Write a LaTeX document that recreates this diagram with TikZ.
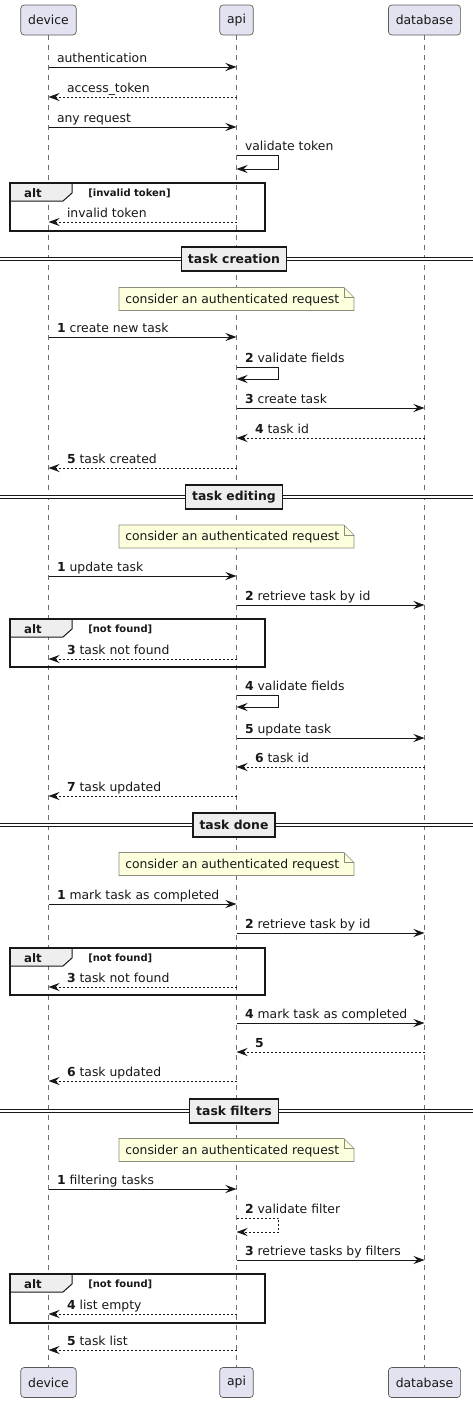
\documentclass[tikz,border=0pt]{standalone}
\usepackage{fontspec}
\setmainfont{DejaVu Sans}
\usepackage{xcolor}
\usepackage{tikz}
\definecolor{seqInk}{HTML}{181818}
\definecolor{seqPart}{HTML}{E2E2F0}
\definecolor{seqPartLine}{HTML}{5A5A5A}
\definecolor{seqLife}{HTML}{6E6E6E}
\definecolor{seqNote}{HTML}{FEFFDD}
\definecolor{seqNoteLine}{HTML}{8C8C7A}
\definecolor{seqGroup}{HTML}{EEEEEE}
\usetikzlibrary{arrows.meta,calc}

\begin{document}
\begin{tikzpicture}[
  x=0.75pt, y=-0.75pt,
  font=\fontsize{9.3}{11}\selectfont,
  participant/.style={draw=seqPartLine, line width=0.5pt, rounded corners=2.5pt, fill=seqPart, minimum height=22.5pt, inner xsep=5.5pt, text=seqInk},
  lifeline/.style={seqLife, line width=0.45pt, dash pattern=on 3.75pt off 3.75pt},
  call/.style={seqInk, line width=0.75pt, -{Stealth[length=8.5pt, width=6.2pt, inset=3.2pt]}},
  reply/.style={call, dash pattern=on 1.5pt off 1.5pt},
  msglabel/.style={anchor=base west, inner sep=0pt, text=seqInk, yshift=3.5pt},
  fromlabel/.style={msglabel, pos=0, xshift=6pt},
  tolabel/.style={msglabel, pos=1, xshift=13.5pt},
  divider/.style={draw=seqInk, line width=1.1pt, fill=seqGroup, font=\fontsize{9.3}{11}\selectfont\bfseries, minimum height=18pt, inner xsep=5pt, text=seqInk},
  notebox/.style={draw=seqNoteLine, line width=0.5pt, fill=seqNote},
  notetext/.style={anchor=base west, inner sep=0pt, text=seqInk},
  altframe/.style={draw=seqInk, line width=1.1pt},
  alttab/.style={draw=seqInk, line width=0.75pt, fill=seqGroup},
  alttag/.style={anchor=base, inner sep=0pt, font=\fontsize{8.8}{10}\selectfont\bfseries, text=seqInk},
  altcond/.style={anchor=base west, inner sep=0pt, font=\fontsize{7.5}{9}\selectfont\bfseries, text=seqInk}
]
\useasboundingbox (0,0) rectangle (473,1403);

% Participants (top and bottom)
\node[participant] (devT) at (48.5,20) {device};
\node[participant] (apiT) at (236.5,20) {api};
\node[participant] (dbT) at (424.5,20) {database};
\node[participant] (devB) at (48.5,1382.5) {device};
\node[participant] (apiB) at (236.5,1382.5) {api};
\node[participant] (dbB) at (424.5,1382.5) {database};

% Lifelines
\draw[lifeline] (devT) -- (devB);
\draw[lifeline] (apiT) -- (apiB);
\draw[lifeline] (dbT) -- (dbB);

% Section dividers
\foreach \dy/\dtext/\nm in {259/task creation/divCreate, 497/task editing/divEdit, 825/task done/divDone, 1111/task filters/divFilter}{
  \draw[seqInk, line width=0.7pt, double, double distance=2pt] (0,\dy) -- (473,\dy);
  \node[divider] (\nm) at (234,\dy) {\dtext};
}

% Notes
\foreach \ny/\nm in {299/noteCreate, 536.5/noteEdit, 864/noteDone, 1150/noteFilter}{
  \filldraw[notebox] (119,\ny-11.5) -- (344,\ny-11.5) -- (354,\ny-1.5) -- (354,\ny+11.5) -- (119,\ny+11.5) -- cycle;
  \draw[notebox, fill=none] (344,\ny-11.5) -- (344,\ny-1.5) -- (354,\ny-1.5);
  \node[notetext] (\nm) at (125,\ny+4) {consider an authenticated request};
}

% Alt fragments
\foreach \ft/\fb/\cond/\nm in {183/231/invalid token/altToken, 619/667/not found/altEdit, 948/995/not found/altDone, 1274/1323/not found/altFilter}{
  \filldraw[alttab] (10,\ft) -- (72,\ft) -- (72,\ft+10) -- (63,\ft+18) -- (10,\ft+18) -- cycle;
  \draw[altframe] (10,\ft) rectangle (265,\fb);
  \node[alttag] (\nm) at (33,\ft+14) {alt};
  \node[altcond] (\nm-c) at (88,\ft+13) {[\cond]};
}

% Authentication
\draw[call] (devT |- 0,67) -- node[fromlabel] (auth) {authentication} (apiT |- 0,67);
\draw[reply] (apiT |- 0,97) -- node[tolabel] (token) {access\_token} (devT |- 0,97);
\draw[call] (devT |- 0,127) -- node[fromlabel] (anyReq) {any request} (apiT |- 0,127);
\draw[call] (apiT |- 0,155) -- node[fromlabel] (valToken) {validate token} ++(42,0) |- (apiT |- 0,169);
\draw[reply] (apiT |- 0,222) -- node[tolabel] (badToken) {invalid token} (devT |- 0,222);

% Task creation
\draw[call] (devT |- 0,337) -- node[fromlabel] (c1) {\textbf{1} create new task} (apiT |- 0,337);
\draw[call] (apiT |- 0,367) -- node[fromlabel] (c2) {\textbf{2} validate fields} ++(42,0) |- (apiT |- 0,379);
\draw[call] (apiT |- 0,408) -- node[fromlabel] (c3) {\textbf{3} create task} (dbT |- 0,408);
\draw[reply] (dbT |- 0,438) -- node[tolabel] (c4) {\textbf{4} task id} (apiT |- 0,438);
\draw[reply] (apiT |- 0,468) -- node[tolabel] (c5) {\textbf{5} task created} (devT |- 0,468);

% Task editing
\draw[call] (devT |- 0,576) -- node[fromlabel] (e1) {\textbf{1} update task} (apiT |- 0,576);
\draw[call] (apiT |- 0,605) -- node[fromlabel] (e2) {\textbf{2} retrieve task by id} (dbT |- 0,605);
\draw[reply] (apiT |- 0,659) -- node[tolabel] (e3) {\textbf{3} task not found} (devT |- 0,659);
\draw[call] (apiT |- 0,695) -- node[fromlabel] (e4) {\textbf{4} validate fields} ++(42,0) |- (apiT |- 0,707);
\draw[call] (apiT |- 0,738) -- node[fromlabel] (e5) {\textbf{5} update task} (dbT |- 0,738);
\draw[reply] (dbT |- 0,767) -- node[tolabel] (e6) {\textbf{6} task id} (apiT |- 0,767);
\draw[reply] (apiT |- 0,796) -- node[tolabel] (e7) {\textbf{7} task updated} (devT |- 0,796);

% Task done
\draw[call] (devT |- 0,904) -- node[fromlabel] (d1) {\textbf{1} mark task as completed} (apiT |- 0,904);
\draw[call] (apiT |- 0,933) -- node[fromlabel] (d2) {\textbf{2} retrieve task by id} (dbT |- 0,933);
\draw[reply] (apiT |- 0,987) -- node[tolabel] (d3) {\textbf{3} task not found} (devT |- 0,987);
\draw[call] (apiT |- 0,1023) -- node[fromlabel] (d4) {\textbf{4} mark task as completed} (dbT |- 0,1023);
\draw[reply] (dbT |- 0,1052) -- node[tolabel] (d5) {\textbf{5}} (apiT |- 0,1052);
\draw[reply] (apiT |- 0,1081) -- node[tolabel] (d6) {\textbf{6} task updated} (devT |- 0,1081);

% Task filters
\draw[call] (devT |- 0,1189) -- node[fromlabel] (f1) {\textbf{1} filtering tasks} (apiT |- 0,1189);
\draw[reply] (apiT |- 0,1218) -- node[fromlabel] (f2) {\textbf{2} validate filter} ++(42,0) |- (apiT |- 0,1232);
\draw[call] (apiT |- 0,1260) -- node[fromlabel] (f3) {\textbf{3} retrieve tasks by filters} (dbT |- 0,1260);
\draw[reply] (apiT |- 0,1314) -- node[tolabel] (f4) {\textbf{4} list empty} (devT |- 0,1314);
\draw[reply] (apiT |- 0,1350) -- node[tolabel] (f5) {\textbf{5} task list} (devT |- 0,1350);

\end{tikzpicture}
\end{document}
